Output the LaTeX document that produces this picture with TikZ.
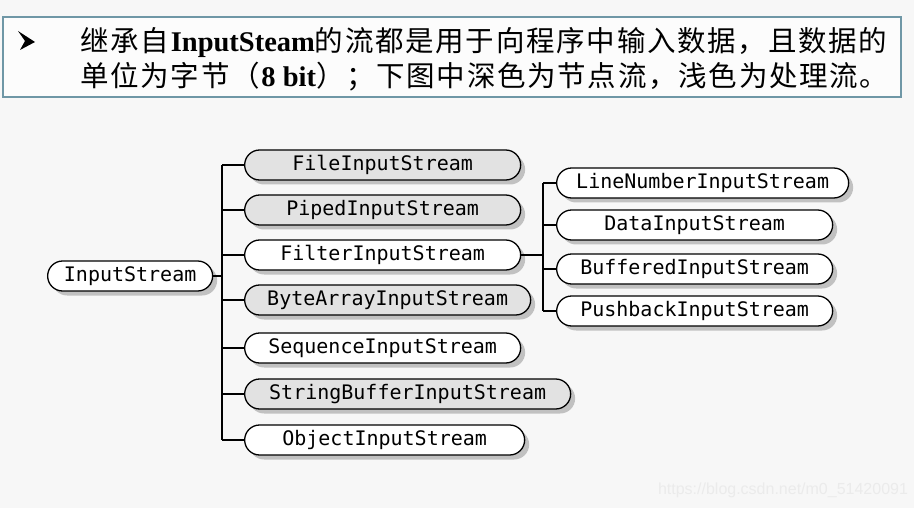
\documentclass[tikz,border=0pt]{standalone}
\usepackage{fontspec}
\setmainfont{Liberation Serif}
\setmonofont{DejaVu Sans Mono}
\newfontfamily\cjk[LetterSpace=6]{Noto Sans CJK SC}
\newfontfamily\wmfont{Liberation Sans}
\usetikzlibrary{shapes.misc,shadows}
\definecolor{bgcol}{HTML}{F7F7F7}
\definecolor{framecol}{HTML}{6F97A6}
\definecolor{nodecol}{HTML}{E2E2E2}
\def\leftone{244}
\def\lefttwo{556}

\begin{document}
\begin{tikzpicture}[x=1pt,y=-1pt,
  stream/.style={rounded rectangle, draw=black, line width=1.3pt, fill=white,
    minimum height=30pt, inner xsep=0pt, anchor=west,
    font=\ttfamily\fontsize{20}{20}\selectfont,
    drop shadow={shadow xshift=4.5pt, shadow yshift=-4.5pt, fill=black!45}},
  nodestream/.style={stream, fill=nodecol},
  link/.style={line width=1.3pt}]
  % page and heading box
  \fill[bgcol] (0,0) rectangle (914,508);
  \useasboundingbox (0,0) rectangle (914,508);
  \draw[framecol, line width=1.2pt, fill=white!60!bgcol] (3,17) rectangle (901,97);
  % bullet arrowhead
  \fill[black] (18,31) -- (35,42) -- (20,50) -- (25,41) -- cycle;
  \node[anchor=west, inner sep=0pt, font=\fontsize{28.5}{28.5}\selectfont] (line1) at (80,42)
    {\cjk 继承自\textbf{\rmfamily InputSteam}的流都是用于向程序中输入数据，且数据的};
  \node[anchor=west, inner sep=0pt, font=\fontsize{28.5}{28.5}\selectfont] (line2) at (80,77)
    {\cjk 单位为字节（\textbf{\rmfamily 8 bit}）；下图中深色为节点流，浅色为处理流。};

  % root
  \node[stream, minimum width=165pt] (is) at (47,276) {InputStream};
  \coordinate (t1) at (222,276);
  % first level
  \foreach \nm/\txt/\y/\w/\sty in {
      fis/FileInputStream/165/276/nodestream,
      pis/PipedInputStream/210/276/nodestream,
      filter/FilterInputStream/255/276/stream,
      bais/ByteArrayInputStream/300/286/nodestream,
      sis/SequenceInputStream/348/276/stream,
      sbis/StringBufferInputStream/394/326/nodestream,
      ois/ObjectInputStream/440/280/stream}
    \node[\sty, minimum width=\w pt] (\nm) at (\leftone,\y) {\txt};
  % second level, under FilterInputStream
  \foreach \nm/\txt/\y/\w in {
      lnis/LineNumberInputStream/183/292,
      dis/DataInputStream/225/276,
      bis/BufferedInputStream/269/276,
      pbis/PushbackInputStream/311/276}
    \node[stream, minimum width=\w pt] (\nm) at (\lefttwo,\y) {\txt};
  \coordinate (t2) at (543,255);

  % connectors
  \draw[link] (is.east) -- (t1);
  \draw[link] (t1 |- fis.west) -- (t1 |- ois.west);
  \foreach \nm in {fis,pis,filter,bais,sis,sbis,ois}
    \draw[link] (t1 |- \nm.west) -- (\nm.west);
  \draw[link] (filter.east) -- (t2);
  \draw[link] (t2 |- lnis.west) -- (t2 |- pbis.west);
  \foreach \nm in {lnis,dis,bis,pbis}
    \draw[link] (t2 |- \nm.west) -- (\nm.west);

  % watermark
  \node[text=black!8, font=\wmfont\fontsize{16}{16}\selectfont] (mark) at (783,490)
    {https://blog.csdn.net/m0\_51420091};
\end{tikzpicture}
\end{document}
